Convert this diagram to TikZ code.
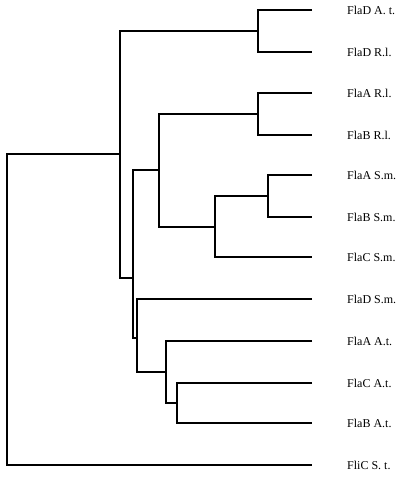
\documentclass[tikz,border=0pt]{standalone}
\usepackage{fontspec}
\setmainfont{Liberation Serif}
\begin{document}
\begin{tikzpicture}[x=1pt,y=-1pt,
  branch/.style={line width=2pt,line join=miter},
  leaf/.style={anchor=base west,inner sep=0pt,font=\fontsize{12}{14}\selectfont}]
\useasboundingbox (0,0) rectangle (400,479);
% leaf ends
\foreach \i/\y in {1/10,2/52,3/93,4/135,5/175,6/217,7/257,8/299,9/341,10/383,11/423,12/465}{
  \coordinate (e\i) at (312,\y);
}
% internal nodes
\coordinate (n1) at (258,31);
\coordinate (n2) at (258,114);
\coordinate (n3) at (268,196);
\coordinate (n4) at (215,227);
\coordinate (n5) at (159,170);
\coordinate (n6) at (177,403);
\coordinate (n7) at (166,372);
\coordinate (n8) at (137,338);
\coordinate (n9) at (133,278);
\coordinate (n10) at (120,154);
\coordinate (r) at (7,300);
% branches
\draw[branch] (e1) -| (n1) |- (e2);
\draw[branch] (e3) -| (n2) |- (e4);
\draw[branch] (e5) -| (n3) |- (e6);
\draw[branch] (n3) -| (n4) |- (e7);
\draw[branch] (n2) -| (n5) |- (n4);
\draw[branch] (e10) -| (n6) |- (e11);
\draw[branch] (e9) -| (n7) |- (n6);
\draw[branch] (e8) -| (n8) |- (n7);
\draw[branch] (n5) -| (n9) |- (n8);
\draw[branch] (n1) -| (n10) |- (n9);
\draw[branch] (n10) -| (r) |- (e12);
% labels
\node[leaf] (l1) at (347,14.5) {FlaD A. t.};
\node[leaf] (l2) at (347,56.5) {FlaD R.l.};
\node[leaf] (l3) at (347,97.5) {FlaA R.l.};
\node[leaf] (l4) at (347,139.5) {FlaB R.l.};
\node[leaf] (l5) at (347,179.5) {FlaA S.m.};
\node[leaf] (l6) at (347,221.5) {FlaB S.m.};
\node[leaf] (l7) at (347,261.5) {FlaC S.m.};
\node[leaf] (l8) at (347,303.5) {FlaD S.m.};
\node[leaf] (l9) at (347,345.5) {FlaA A.t.};
\node[leaf] (l10) at (347,387.5) {FlaC A.t.};
\node[leaf] (l11) at (347,427.5) {FlaB A.t.};
\node[leaf] (l12) at (347,469.5) {FliC S. t.};
\end{tikzpicture}
\end{document}
